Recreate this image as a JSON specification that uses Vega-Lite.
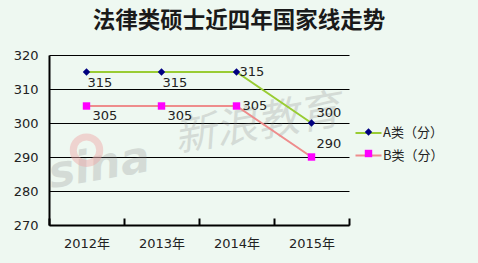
{
  "$schema": "https://vega.github.io/schema/vega-lite/v6.json",
  "width": 300,
  "height": 170,
  "autosize": {"type": "none"},
  "padding": {"left": 49, "top": 55, "right": 129, "bottom": 38},
  "background": "#EEF8F1",
  "title": {"text": "法律类硕士近四年国家线走势", "font": "Noto Sans CJK SC", "fontSize": 22.5, "fontWeight": "bold", "color": "#1a1a1a", "anchor": "middle", "dx": 40, "offset": 17},
  "config": {"view": {"stroke": null}, "font": "DejaVu Sans"},
  "data": {"values": [
    {"year": "2012年", "series": "A类（分）", "score": 315},
    {"year": "2013年", "series": "A类（分）", "score": 315},
    {"year": "2014年", "series": "A类（分）", "score": 315},
    {"year": "2015年", "series": "A类（分）", "score": 300},
    {"year": "2012年", "series": "B类（分）", "score": 305},
    {"year": "2013年", "series": "B类（分）", "score": 305},
    {"year": "2014年", "series": "B类（分）", "score": 305},
    {"year": "2015年", "series": "B类（分）", "score": 290}
  ]},
  "encoding": {
    "x": {"field": "year", "type": "ordinal", "scale": {"type": "band", "paddingInner": 0, "paddingOuter": 0},
      "axis": {"title": null, "labelAngle": 0, "tickBand": "extent", "ticks": true, "tickSize": -7, "tickColor": "#000", "tickWidth": 2, "domainColor": "#000", "domainWidth": 2, "labelPadding": 19, "labelFont": "DejaVu Sans, Noto Sans CJK SC", "labelFontSize": 13, "labelColor": "#222"}},
    "y": {"field": "score", "type": "quantitative", "scale": {"domain": [270, 320], "nice": false, "zero": false},
      "axis": {"title": null, "values": [270, 280, 290, 300, 310, 320], "grid": true, "gridColor": "#000", "gridWidth": 1, "gridOpacity": 1, "ticks": false, "domainColor": "#000", "domainWidth": 2, "labelFont": "DejaVu Sans", "labelFontSize": 13, "labelColor": "#222", "labelPadding": 11}}
  },
  "layer": [
    {
      "data": {"values": [{"w": "新浪教育", "year": "2014年", "score": 298.5}]},
      "mark": {"type": "text", "font": "Noto Sans CJK SC", "fontSize": 42, "fontStyle": "italic", "color": "#888", "opacity": 0.25, "angle": -10, "align": "center", "baseline": "middle", "dx": 21},
      "encoding": {"text": {"field": "w", "type": "nominal"}}
    },
    {
      "data": {"values": [{"w": "sina", "year": "2012年", "score": 286.5}]},
      "mark": {"type": "text", "font": "DejaVu Sans", "fontSize": 44, "fontStyle": "italic", "fontWeight": "bold", "color": "#888", "opacity": 0.25, "angle": -10, "align": "center", "baseline": "middle", "dx": 13},
      "encoding": {"text": {"field": "w", "type": "nominal"}}
    },
    {
      "data": {"values": [{"year": "2012年", "score": 292}]},
      "mark": {"type": "point", "shape": "circle", "filled": false, "size": 700, "strokeWidth": 7, "color": "#F0A8A8", "opacity": 0.45, "dx": 0},
      "encoding": {}
    },
    {
      "mark": {"type": "line", "strokeWidth": 2},
      "encoding": {
        "stroke": {"field": "series", "type": "nominal", "scale": {"domain": ["A类（分）", "B类（分）"], "range": ["#99CC33", "#EE8C8C"]},
          "legend": {"orient": "none", "legendX": 312, "legendY": 70.5, "title": null, "symbolType": "M-2,0H2", "symbolSize": 169, "symbolStrokeWidth": 2, "symbolFillColor": "transparent", "labelFont": "Noto Sans CJK SC", "labelFontSize": 13, "labelColor": "#222", "rowPadding": 7.5, "labelOffset": 7}}
      }
    },
    {
      "mark": {"type": "point", "filled": true, "size": 55, "opacity": 1},
      "encoding": {
        "fill": {"field": "series", "type": "nominal", "scale": {"range": ["#000080", "#FF00FF"]},
          "legend": {"orient": "none", "legendX": 313, "legendY": 70.5, "title": null, "symbolSize": 55, "symbolStrokeWidth": 0, "labelFont": "Noto Sans CJK SC", "labelFontSize": 13, "labelExpr": "' '", "rowPadding": 7.5, "labelOffset": 2}},
        "shape": {"field": "series", "type": "nominal", "scale": {"range": ["diamond", "square"]},
          "legend": {"orient": "none", "legendX": 313, "legendY": 70.5, "title": null, "symbolSize": 55, "symbolStrokeWidth": 0, "labelFont": "Noto Sans CJK SC", "labelFontSize": 13, "labelExpr": "' '", "rowPadding": 7.5, "labelOffset": 2}}
      }
    },
    {
      "transform": [{"filter": "datum.series == 'A类（分）' && (datum.year == '2012年' || datum.year == '2013年')"}],
      "mark": {"type": "text", "align": "left", "baseline": "middle", "font": "DejaVu Sans", "fontSize": 13, "color": "#222", "dx": 1, "dy": 11},
      "encoding": {"text": {"field": "score", "type": "quantitative"}}
    },
    {
      "transform": [{"filter": "datum.series == 'A类（分）' && datum.year == '2014年'"}],
      "mark": {"type": "text", "align": "left", "baseline": "middle", "font": "DejaVu Sans", "fontSize": 13, "color": "#222", "dx": 3, "dy": 0},
      "encoding": {"text": {"field": "score", "type": "quantitative"}}
    },
    {
      "transform": [{"filter": "datum.series == 'A类（分）' && datum.year == '2015年'"}],
      "mark": {"type": "text", "align": "left", "baseline": "middle", "font": "DejaVu Sans", "fontSize": 13, "color": "#222", "dx": 5, "dy": -10},
      "encoding": {"text": {"field": "score", "type": "quantitative"}}
    },
    {
      "transform": [{"filter": "datum.series == 'B类（分）' && (datum.year == '2012年' || datum.year == '2013年')"}],
      "mark": {"type": "text", "align": "left", "baseline": "middle", "font": "DejaVu Sans", "fontSize": 13, "color": "#222", "dx": 6, "dy": 10},
      "encoding": {"text": {"field": "score", "type": "quantitative"}}
    },
    {
      "transform": [{"filter": "datum.series == 'B类（分）' && datum.year == '2014年'"}],
      "mark": {"type": "text", "align": "left", "baseline": "middle", "font": "DejaVu Sans", "fontSize": 13, "color": "#222", "dx": 6, "dy": 0},
      "encoding": {"text": {"field": "score", "type": "quantitative"}}
    },
    {
      "transform": [{"filter": "datum.series == 'B类（分）' && datum.year == '2015年'"}],
      "mark": {"type": "text", "align": "left", "baseline": "middle", "font": "DejaVu Sans", "fontSize": 13, "color": "#222", "dx": 5, "dy": -13},
      "encoding": {"text": {"field": "score", "type": "quantitative"}}
    }
  ]
}
